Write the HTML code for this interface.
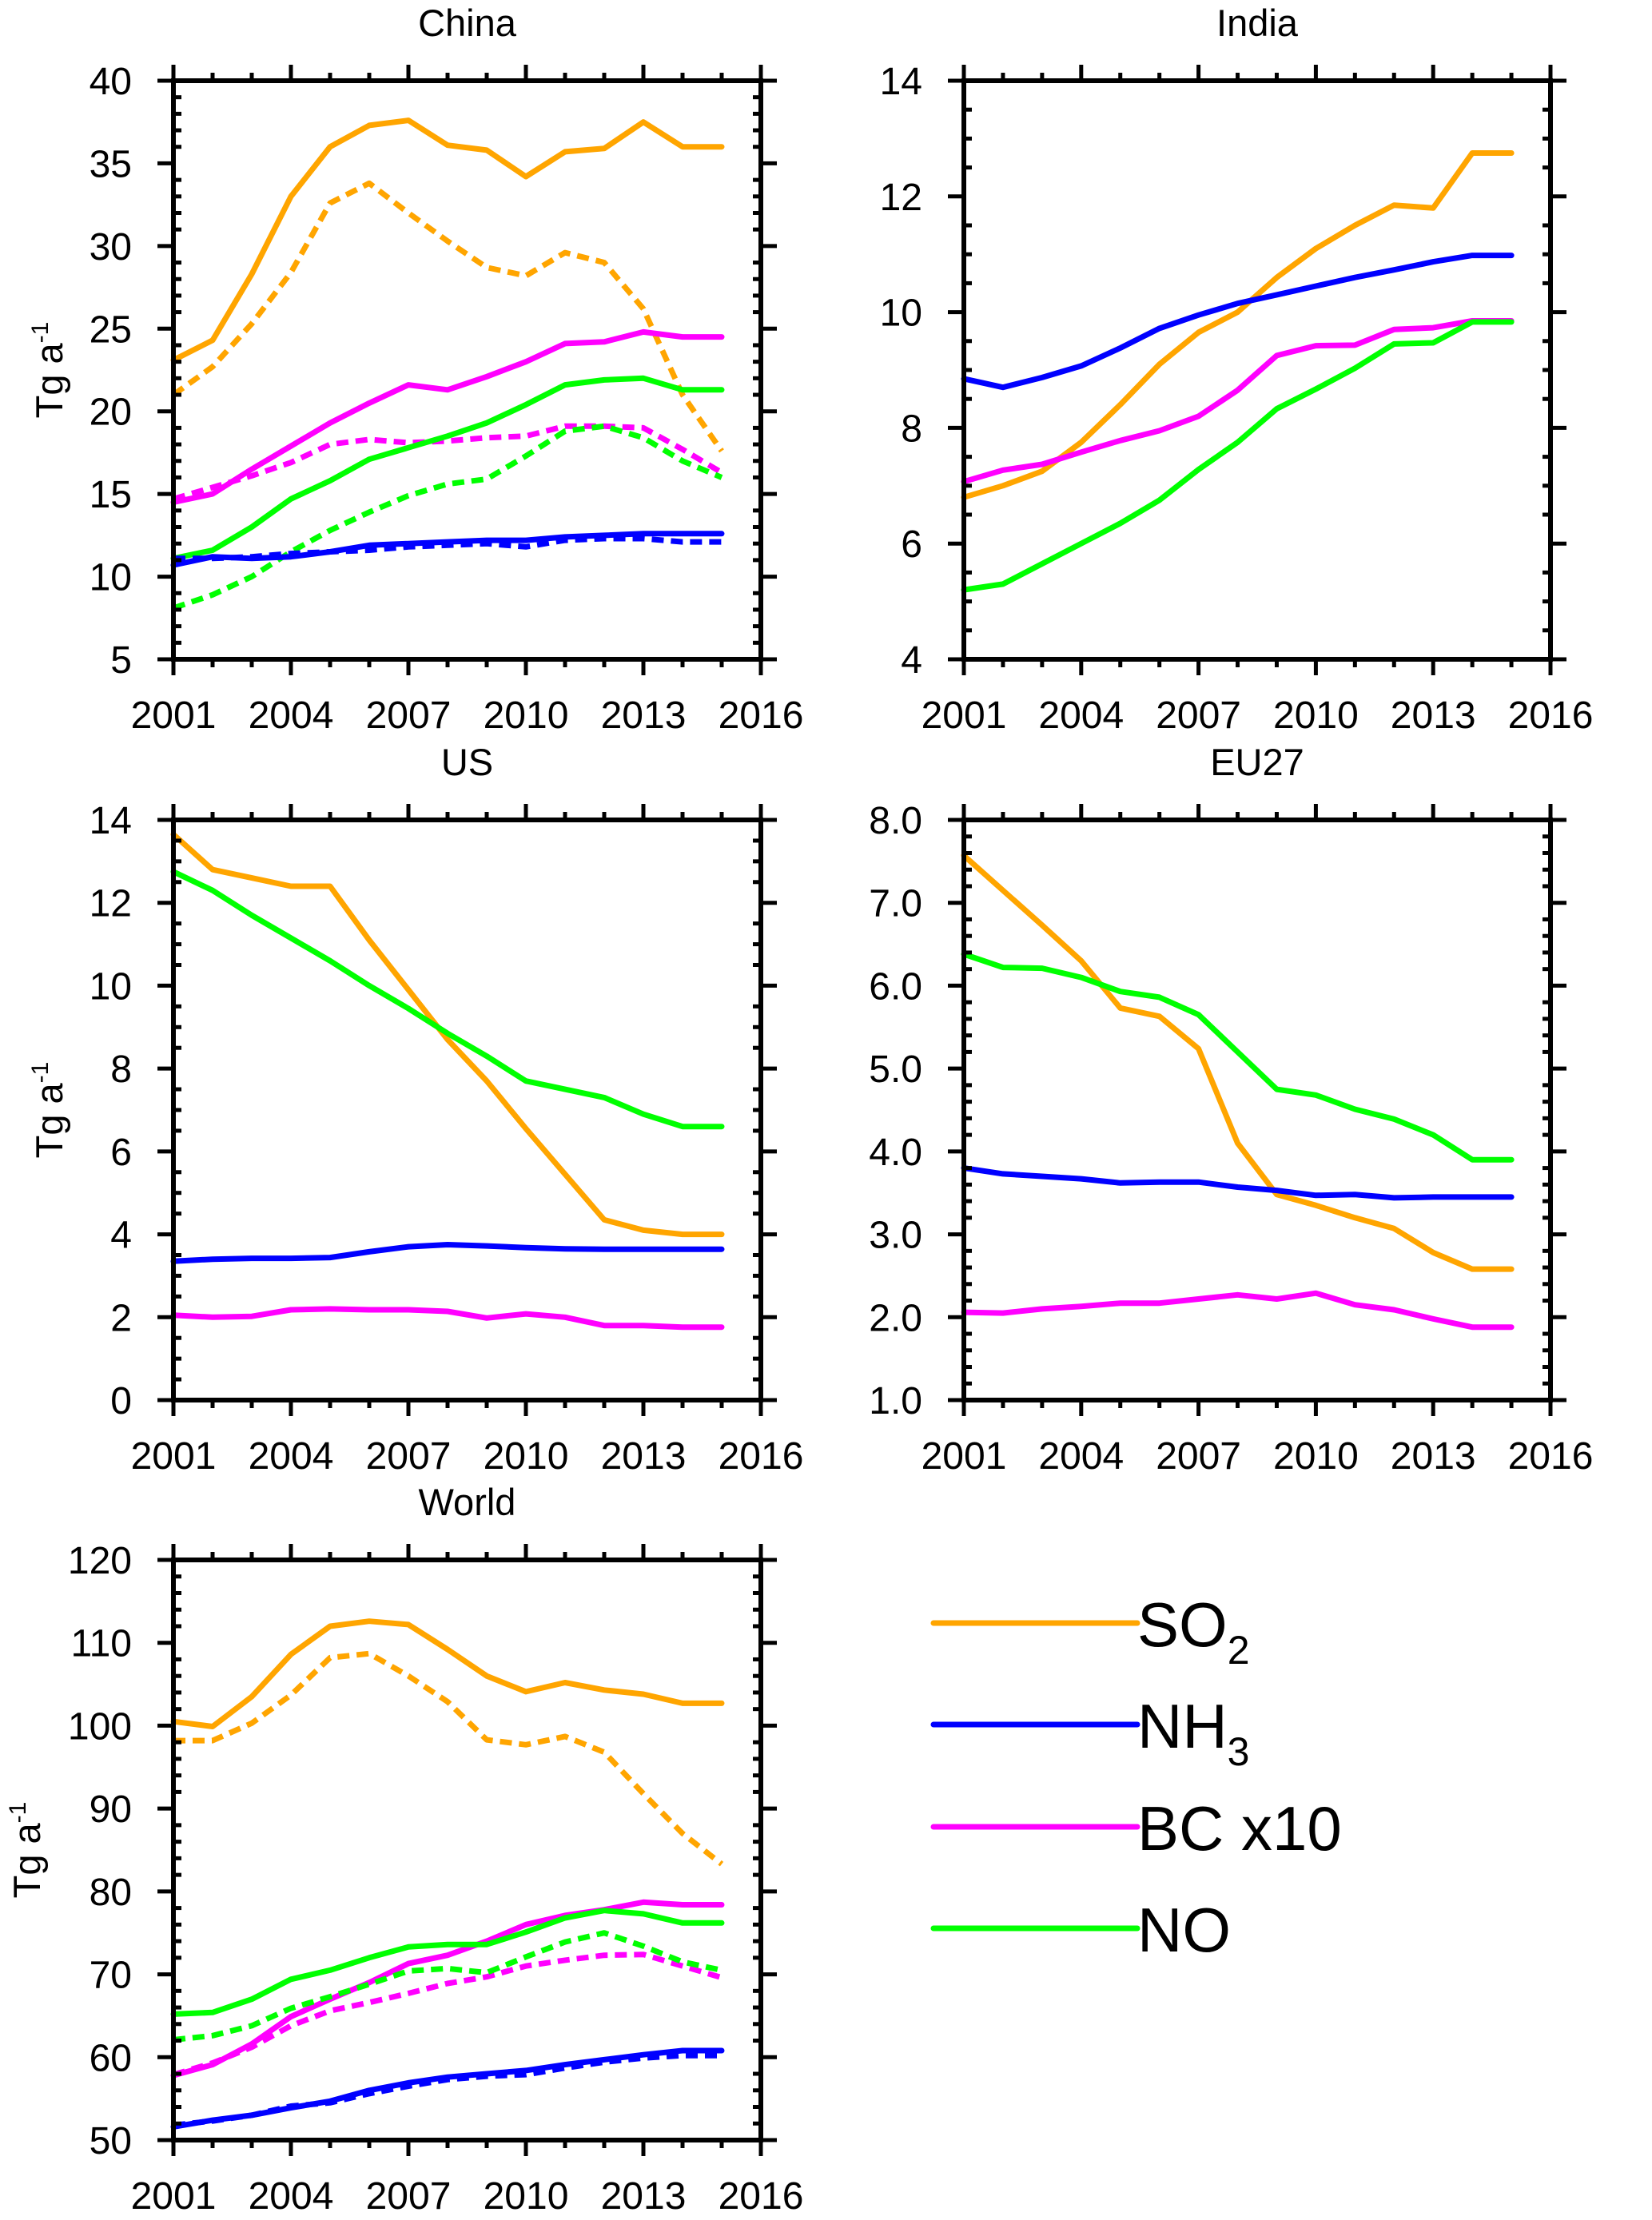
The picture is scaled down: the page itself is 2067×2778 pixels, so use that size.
<!DOCTYPE html>
<html><head><meta charset="utf-8"><style>
html,body{margin:0;padding:0;background:#fff;}
svg{display:block;font-family:"Liberation Sans",Arial,sans-serif;}
</style></head><body>
<svg id="fig" width="2067" height="2778" viewBox="0 0 2067 2778" xmlns="http://www.w3.org/2000/svg"></svg>
<script>
const years = [2001,2002,2003,2004,2005,2006,2007,2008,2009,2010,2011,2012,2013,2014,2015];
const xTicks = [2001,2004,2007,2010,2013,2016];

const chinaSO2 = [23.1,24.3,28.3,33,36,37.3,37.6,36.1,35.8,34.2,35.7,35.9,37.5,36.0,36.0];
const chinaSO2b = [21,22.7,25.3,28.4,32.6,33.8,32,30.3,28.7,28.2,29.6,29,26.2,21,17.6];
const chinaBC = [14.5,15,16.5,17.9,19.3,20.5,21.6,21.3,22.1,23,24.1,24.2,24.8,24.5,24.5];
const chinaBCb = [14.7,15.4,16.1,16.9,18.0,18.3,18.1,18.2,18.4,18.5,19.1,19.1,19.0,17.7,16.3];
const chinaNO = [11.1,11.6,13,14.7,15.8,17.1,17.8,18.5,19.3,20.4,21.6,21.9,22,21.3,21.3];
const chinaNOb = [8.1,8.9,10,11.5,12.8,13.9,14.9,15.6,15.9,17.3,18.8,19.1,18.4,17,16];
const chinaNH3 = [10.7,11.2,11.1,11.2,11.5,11.9,12.0,12.1,12.2,12.2,12.4,12.5,12.6,12.6,12.6];
const chinaNH3b = [11.1,11.1,11.2,11.4,11.5,11.6,11.8,11.9,12.0,11.8,12.2,12.3,12.3,12.1,12.1];
const chinaTicks = [5,10,15,20,25,30,35,40];

const indiaSO2 = [6.8,7.0,7.25,7.75,8.4,9.1,9.65,10.0,10.6,11.1,11.5,11.85,11.8,12.75,12.75];
const indiaNH3 = [8.85,8.7,8.87,9.07,9.38,9.72,9.95,10.15,10.3,10.45,10.6,10.73,10.87,10.98,10.98];
const indiaBC = [7.07,7.27,7.37,7.58,7.78,7.95,8.2,8.65,9.25,9.42,9.43,9.7,9.73,9.85,9.85];
const indiaNO = [5.2,5.3,5.65,6.0,6.35,6.75,7.28,7.75,8.33,8.67,9.03,9.45,9.47,9.83,9.83];
const indiaTicks = [4,6,8,10,12,14];

const usSO2 = [13.65,12.8,12.6,12.4,12.4,11.1,9.9,8.7,7.7,6.55,5.45,4.35,4.1,4.0,4.0];
const usNO = [12.75,12.3,11.7,11.15,10.6,10.0,9.45,8.85,8.3,7.7,7.5,7.3,6.9,6.6,6.6];
const usNH3 = [3.35,3.4,3.42,3.42,3.44,3.58,3.7,3.75,3.72,3.68,3.65,3.64,3.64,3.64,3.64];
const usBC = [2.05,2.0,2.02,2.18,2.2,2.18,2.18,2.14,1.98,2.08,2.0,1.8,1.8,1.76,1.76];
const usTicks = [0,2,4,6,8,10,12,14];

const euSO2 = [7.57,7.15,6.73,6.3,5.73,5.63,5.24,4.1,3.48,3.35,3.2,3.07,2.78,2.58,2.58];
const euNO = [6.38,6.22,6.21,6.1,5.93,5.86,5.65,5.2,4.75,4.68,4.51,4.39,4.2,3.9,3.9];
const euNH3 = [3.8,3.73,3.7,3.67,3.62,3.63,3.63,3.57,3.53,3.47,3.48,3.44,3.45,3.45,3.45];
const euBC = [2.06,2.05,2.1,2.13,2.17,2.17,2.22,2.27,2.22,2.29,2.15,2.09,1.98,1.88,1.88];
const euTicks = ["1.0","2.0","3.0","4.0","5.0","6.0","7.0","8.0"];

const worldSO2 = [100.5,99.9,103.5,108.6,112,112.6,112.2,109.2,106,104.1,105.2,104.3,103.8,102.7,102.7];
const worldSO2b = [98.2,98.2,100.3,103.7,108.2,108.7,106,102.9,98.3,97.7,98.7,96.8,91.8,87.0,83.3];
const worldBC = [57.8,59.1,61.6,64.9,67,69,71.3,72.3,74,76,77.1,77.8,78.7,78.4,78.4];
const worldBCb = [57.9,59.3,61.2,63.8,65.6,66.6,67.7,68.9,69.7,71.0,71.7,72.3,72.4,71.0,69.6];
const worldNO = [65.2,65.4,67,69.4,70.5,72,73.3,73.6,73.6,75.1,76.8,77.7,77.3,76.2,76.2];
const worldNOb = [62.1,62.6,63.8,65.9,67.3,68.8,70.4,70.7,70.2,72.1,73.9,75,73.4,71.5,70.5];
const worldNH3 = [51.6,52.4,53,53.9,54.7,56,56.9,57.6,58,58.4,59.1,59.7,60.3,60.8,60.8];
const worldNH3b = [51.8,52.3,53.0,54.1,54.5,55.6,56.5,57.3,57.7,57.9,58.7,59.4,59.9,60.2,60.2];
const worldTicks = [50,60,70,80,90,100,110,120];

const C = {so2:"#ffa500", nh3:"#0000ff", bc:"#ff00ff", no:"#00ff00"};
const NS = "http://www.w3.org/2000/svg";
const svg = document.getElementById('fig');
function el(tag, attrs, parent){
  const e = document.createElementNS(NS, tag);
  for (const k in attrs) e.setAttribute(k, attrs[k]);
  (parent||svg).appendChild(e);
  return e;
}

function panel(cfg){
  const g = el('g', {});
  
  
  const L=cfg.x0, R=cfg.x1, T=cfg.y0, B=cfg.y1;
  const xs = v => L + (v-2001)/(2016-2001)*(R-L);
  const ys = v => B - (v-cfg.ymin)/(cfg.ymax-cfg.ymin)*(B-T);
  const t = el('text', {x:(L+R)/2, y:T-56, 'font-size':47, 'text-anchor':'middle'}, g);
  t.textContent = cfg.title;
  
  
  cfg.series.forEach(s=>{
    const d = s.data.map((v,i)=>(i?'L':'M')+xs(years[i]).toFixed(1)+','+ys(v).toFixed(1)).join(' ');
    const p = el('path', {d:d, fill:'none', stroke:s.color, 'stroke-width':7, 'stroke-linejoin':'round', 'stroke-linecap': s.dash?'butt':'round'}, g);
    if (s.dash) p.setAttribute('stroke-dasharray','15 9');
    
    
  });
  const fr = el('rect', {x:L, y:T, width:R-L, height:B-T, fill:'none', stroke:'#000', 'stroke-width':6}, g);
  
  
  const tk = el('g', {stroke:'#000', 'stroke-width':5}, g);
  
  
  for (let yr=2001; yr<=2016; yr++){
    const x = xs(yr);
    const maj = (yr-2001)%3===0;
    if (maj){
      el('line',{x1:x,y1:B,x2:x,y2:B+20},tk);
      el('line',{x1:x,y1:T,x2:x,y2:T-20},tk);
    } else {
      el('line',{x1:x,y1:B,x2:x,y2:B+10},tk);
      el('line',{x1:x,y1:T,x2:x,y2:T-10},tk);
    }
  }
  xTicks.forEach(v=>{
    const tx = el('text',{x:xs(v), y:B+86, 'font-size':48, 'text-anchor':'middle'}, g);
    tx.textContent = v;
    
    
  });
  const nMin = Math.round((cfg.ymax-cfg.ymin)/cfg.minor);
  for (let i=0;i<=nMin;i++){
    const v = cfg.ymin + i*cfg.minor;
    const y = ys(v);
    const maj = Math.abs(((v-cfg.ymin)/cfg.major) - Math.round((v-cfg.ymin)/cfg.major))<1e-6;
    if (maj){
      el('line',{x1:L-20,y1:y,x2:L,y2:y},tk);
      el('line',{x1:R,y1:y,x2:R+20,y2:y},tk);
    } else {
      el('line',{x1:L,y1:y,x2:L+10,y2:y},tk);
      el('line',{x1:R,y1:y,x2:R-10,y2:y},tk);
    }
  }
  cfg.ticks.forEach(lab=>{
    const y = ys(parseFloat(lab));
    const tx = el('text',{x:L-52, y:y+17, 'font-size':48, 'text-anchor':'end'}, g);
    tx.textContent = lab;
    
    
  });
  if (cfg.ylabelX){
    const cy = (T+B)/2;
    const yl = el('text',{x:cfg.ylabelX, y:cy, 'font-size':47, 'text-anchor':'middle', transform:'rotate(-90 '+cfg.ylabelX+' '+cy+')'}, g);
    yl.innerHTML = 'Tg a<tspan dy="-18" font-size="30">-1</tspan>';
    
    
  }
}

panel({key:'china', title:'China', x0:217,x1:952,y0:101,y1:825, ymin:5,ymax:40, major:5, minor:1, ticks:chinaTicks.map(String), ylabelX:78,
  series:[{name:'so2',data:chinaSO2,color:C.so2},{name:'so2-alt',data:chinaSO2b,color:C.so2,dash:1},
          {name:'bc',data:chinaBC,color:C.bc},{name:'bc-alt',data:chinaBCb,color:C.bc,dash:1},
          {name:'no',data:chinaNO,color:C.no},{name:'no-alt',data:chinaNOb,color:C.no,dash:1},
          {name:'nh3',data:chinaNH3,color:C.nh3},{name:'nh3-alt',data:chinaNH3b,color:C.nh3,dash:1}]});
panel({key:'india', title:'India', x0:1206,x1:1940,y0:101,y1:825, ymin:4,ymax:14, major:2, minor:0.5, ticks:indiaTicks.map(String),
  series:[{name:'so2',data:indiaSO2,color:C.so2},{name:'nh3',data:indiaNH3,color:C.nh3},
          {name:'bc',data:indiaBC,color:C.bc},{name:'no',data:indiaNO,color:C.no}]});
panel({key:'us', title:'US', x0:217,x1:952,y0:1026,y1:1752, ymin:0,ymax:14, major:2, minor:0.5, ticks:usTicks.map(String), ylabelX:78,
  series:[{name:'so2',data:usSO2,color:C.so2},{name:'no',data:usNO,color:C.no},
          {name:'nh3',data:usNH3,color:C.nh3},{name:'bc',data:usBC,color:C.bc}]});
panel({key:'eu27', title:'EU27', x0:1206,x1:1940,y0:1026,y1:1752, ymin:1,ymax:8, major:1, minor:0.2, ticks:euTicks,
  series:[{name:'so2',data:euSO2,color:C.so2},{name:'no',data:euNO,color:C.no},
          {name:'nh3',data:euNH3,color:C.nh3},{name:'bc',data:euBC,color:C.bc}]});
panel({key:'world', title:'World', x0:217,x1:952,y0:1952,y1:2678, ymin:50,ymax:120, major:10, minor:2, ticks:worldTicks.map(String), ylabelX:50,
  series:[{name:'so2',data:worldSO2,color:C.so2},{name:'so2-alt',data:worldSO2b,color:C.so2,dash:1},
          {name:'bc',data:worldBC,color:C.bc},{name:'bc-alt',data:worldBCb,color:C.bc,dash:1},
          {name:'no',data:worldNO,color:C.no},{name:'no-alt',data:worldNOb,color:C.no,dash:1},
          {name:'nh3',data:worldNH3,color:C.nh3},{name:'nh3-alt',data:worldNH3b,color:C.nh3,dash:1}]});

const leg = el('g', {});


const legItems = [
  {name:'so2', color:C.so2, y:2031, html:'SO<tspan dy="22" font-size="50">2</tspan>'},
  {name:'nh3', color:C.nh3, y:2158, html:'NH<tspan dy="22" font-size="50">3</tspan>'},
  {name:'bc', color:C.bc, y:2286, html:'BC x10'},
  {name:'no', color:C.no, y:2413, html:'NO'}
];
legItems.forEach(it=>{
  const ge = el('g', {}, leg);
  
  
  el('line',{x1:1168,y1:it.y,x2:1423,y2:it.y,stroke:it.color,'stroke-width':7,'stroke-linecap':'round'},ge);
  const t = el('text',{x:1423,y:it.y+29,'font-size':78},ge);
  t.innerHTML = it.html;
});
</script>
</body></html>
